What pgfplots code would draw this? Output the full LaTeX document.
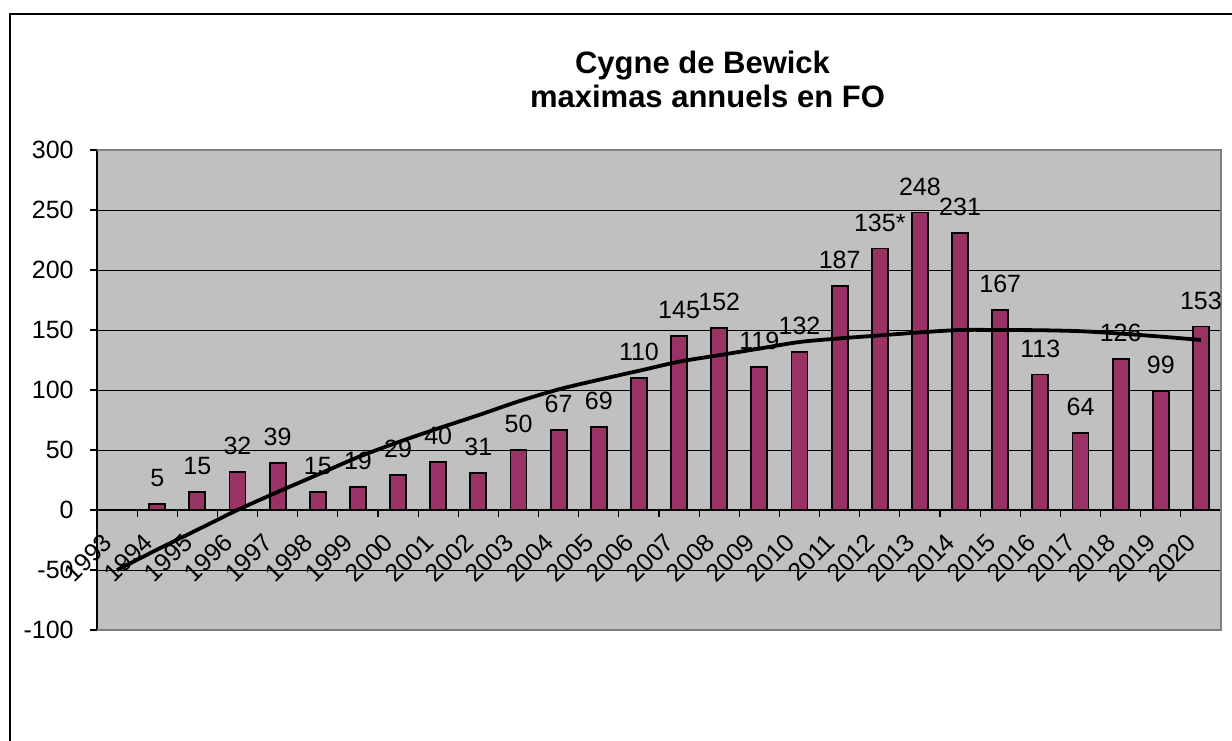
\documentclass[border=0pt]{standalone}
\usepackage{pgfplots}
\pgfplotsset{compat=1.18}
\usepackage{pgfplotstable}
\usepackage{fontspec}
\setmainfont{Liberation Sans}
\definecolor{barcol}{RGB}{153,51,102}
\definecolor{plotbg}{RGB}{192,192,192}
\definecolor{framegray}{RGB}{128,128,128}
\pgfplotstableread{
x y lab
1 5 5
2 15 15
3 32 32
4 39 39
5 15 15
6 19 19
7 29 29
8 40 40
9 31 31
10 50 50
11 67 67
12 69 69
13 110 110
14 145 145
15 152 152
16 119 119
17 132 132
18 187 187
19 218 135*
20 248 248
21 231 231
22 167 167
23 113 113
24 64 64
25 126 126
26 99 99
27 153 153
}\bars
\pgfplotstableread{
x y
0 -50
1 -33
2 -16.5
3 0
4 15
5 29.5
6 44
7 56.5
8 68
9 79
10 90.5
11 100.5
12 108.5
13 116
14 123.6
15 129
16 134.5
17 140
18 143
19 145.5
20 148
21 150
22 150
23 149.8
24 149
25 147
26 144.5
27 141.7
}\trend
\begin{document}
\begin{tikzpicture}
\useasboundingbox (0,0) rectangle (616pt,370pt);
\fill[white] (0,0) rectangle (616pt,370pt);
\draw[black, line width=0.75pt] (5pt,-10pt) -- (5pt,363pt) -- (630pt,363pt);
\node[font=\fontsize{15.5}{18}\selectfont\bfseries, anchor=base] at (351.25pt,333pt) {Cygne de Bewick};
\node[font=\fontsize{15.5}{18}\selectfont\bfseries, anchor=base] at (353.75pt,316pt) {maximas annuels en FO};
\begin{axis}[
  at={(48.5pt,55pt)}, anchor=south west,
  scale only axis, width=562pt, height=240pt,
  xmin=-0.5, xmax=27.5, ymin=-100, ymax=300,
  axis x line*=middle, axis y line*=left,
  x axis line style={-, black, line width=0.6pt},
  y axis line style={-, black, line width=0.8pt},
  axis background/.style={fill=plotbg},
  ytick={-100,-50,0,50,100,150,200,250,300},
  ymajorgrids, grid style={black, line width=0.5pt},
  tick align=outside, major tick length=3.5pt,
  tick style={black, line width=0.6pt},
  /pgf/number format/assume math mode=true,
  tick label style={font=\fontsize{12.5}{14}\selectfont},
  yticklabel style={inner sep=0pt},
  yticklabel shift=8pt,
  xtick={-0.5,0.5,...,27.5}, xticklabels={},
  extra x ticks={0,1,...,27},
  extra x tick labels={1993,1994,1995,1996,1997,1998,1999,2000,2001,2002,2003,2004,2005,2006,2007,2008,2009,2010,2011,2012,2013,2014,2015,2016,2017,2018,2019,2020},
  extra x tick style={major tick length=0pt, grid=none,
    xticklabel style={xshift=-1.5pt, rotate=45, anchor=base east, inner sep=0pt}},
  xticklabel shift=17pt,
  clip=false,
]
\draw[framegray, line width=1pt] (rel axis cs:0,0) -- (rel axis cs:1,0) -- (rel axis cs:1,1) -- (rel axis cs:0,1);
\addplot[ybar, bar width=8pt, fill=barcol, draw=black, line width=0.9pt,
  nodes near coords, point meta=explicit symbolic,
  every node near coord/.append style={anchor=base, yshift=8.7pt, inner sep=0pt, font=\fontsize{12.5}{14}\selectfont, black}]
  table[x=x, y=y, meta=lab] {\bars};
\addplot[black, line width=1.9pt, smooth, no marks] table[x=x, y=y] {\trend};
\end{axis}
\end{tikzpicture}
\end{document}
